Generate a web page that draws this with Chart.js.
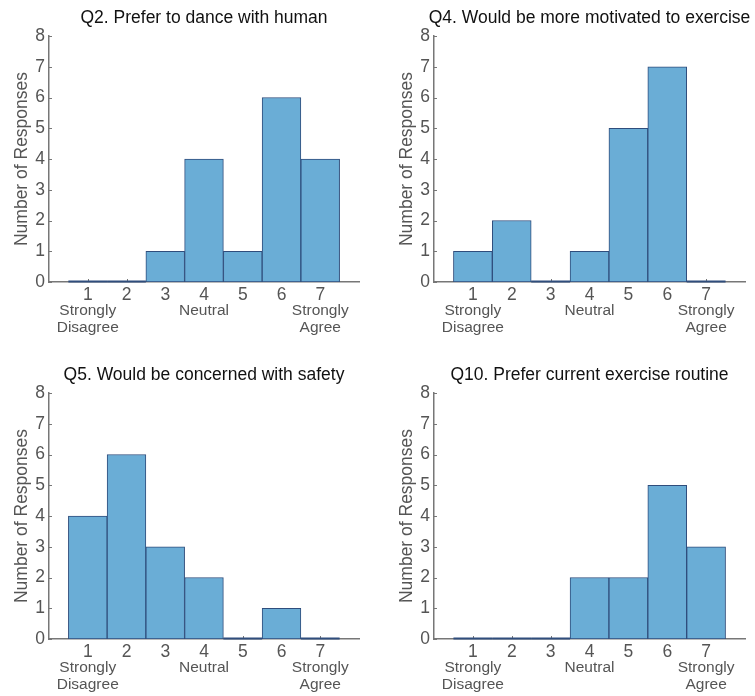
<!DOCTYPE html>
<html>
<head>
<meta charset="utf-8">
<script src="https://cdn.jsdelivr.net/npm/chart.js@4"></script>
<style>
  html, body { margin:0; padding:0; background:#fff; width:755px; height:696px; overflow:hidden; }
  canvas { position:absolute; }
</style>
</head>
<body>
<canvas id="c1" width="377" height="348" style="left:0;top:0"></canvas>
<canvas id="c2" width="370" height="348" style="left:385px;top:0"></canvas>
<canvas id="c3" width="377" height="339" style="left:0;top:357px"></canvas>
<canvas id="c4" width="370" height="339" style="left:385px;top:357px"></canvas>
<script>
// ---- data ----
const categories = [1, 2, 3, 4, 5, 6, 7];
const anchorLabels = { 1: ['Strongly', 'Disagree'], 4: ['Neutral'], 7: ['Strongly', 'Agree'] };
const q2Values  = [0, 0, 1, 4, 1, 6, 4];
const q4Values  = [1, 2, 0, 1, 5, 7, 0];
const q5Values  = [4, 6, 3, 2, 0, 1, 0];
const q10Values = [0, 0, 0, 2, 2, 5, 3];
const titles = [
  'Q2. Prefer to dance with human',
  'Q4. Would be more motivated to exercise',
  'Q5. Would be concerned with safety',
  'Q10. Prefer current exercise routine'
];
const yTitle = 'Number of Responses';

const FONT = '"Liberation Sans", Arial, Helvetica, sans-serif';
const AXIS = '#777777';
const TXT = '#555555';
const FILL = '#6aadd6';
const EDGE = '#2f4d7c';

const decoPlugin = {
  id: 'deco',
  beforeDatasetsDraw(chart) {
    const ctx = chart.ctx, a = chart.chartArea, xs = chart.scales.x, ys = chart.scales.y;
    ctx.save();
    ctx.strokeStyle = AXIS; ctx.lineWidth = 1;
    for (let v = 0; v <= 8; v++) {
      const y = Math.round(ys.getPixelForValue(v)) + 0.5;
      ctx.beginPath(); ctx.moveTo(a.left, y); ctx.lineTo(a.left + 3, y); ctx.stroke();
    }
    categories.forEach(c => {
      const x = Math.round(xs.getPixelForValue(c)) + 0.5;
      ctx.beginPath(); ctx.moveTo(x, a.bottom); ctx.lineTo(x, a.bottom - 3); ctx.stroke();
    });
    ctx.restore();
  },
  afterDatasetsDraw(chart) {
    const ctx = chart.ctx;
    const meta = chart.getDatasetMeta(0);
    const vals = chart.data.datasets[0].data;
    ctx.save();
    ctx.strokeStyle = EDGE; ctx.lineWidth = 2;
    meta.data.forEach((el, i) => {
      if (vals[i].y === 0) {
        ctx.beginPath();
        ctx.moveTo(el.x - el.width / 2, el.y - 0.5);
        ctx.lineTo(el.x + el.width / 2, el.y - 0.5);
        ctx.stroke();
      }
    });
    ctx.restore();
  },
  afterDraw(chart) {
    const ctx = chart.ctx, a = chart.chartArea, xs = chart.scales.x;
    ctx.save();
    ctx.textAlign = 'center'; ctx.textBaseline = 'middle';
    // title
    ctx.fillStyle = '#111111';
    ctx.font = '17.5px ' + FONT;
    ctx.fillText(chart.options.plugins.deco.title, (a.left + a.right) / 2, 18);
    // x tick labels
    categories.forEach(c => {
      const x = xs.getPixelForValue(c);
      ctx.fillStyle = TXT;
      ctx.font = '17.5px ' + FONT;
      ctx.fillText(String(c), x, a.bottom + 13);
      const words = anchorLabels[c];
      if (words) {
        ctx.font = '15.5px ' + FONT;
        words.forEach((w, k) => ctx.fillText(w, x, a.bottom + 29 + k * 17));
      }
    });
    ctx.restore();
  }
};

function makeChart(id, values, title, rightPad, xHeight) {
  return new Chart(document.getElementById(id), {
    type: 'bar',
    data: {
      datasets: [{
        data: values.map((v, i) => ({ x: categories[i], y: v })),
        backgroundColor: FILL,
        borderColor: EDGE,
        borderWidth: 1,
        borderSkipped: false,
        barPercentage: 1,
        categoryPercentage: 1
      }]
    },
    plugins: [decoPlugin],
    options: {
      responsive: false,
      animation: false,
      devicePixelRatio: 1,
      layout: { padding: { top: 36, right: rightPad, left: 0, bottom: 0 } },
      plugins: {
        legend: { display: false },
        tooltip: { enabled: false },
        deco: { title: title }
      },
      scales: {
        x: {
          type: 'linear', min: 0, max: 8, offset: false,
          grid: { display: false, drawTicks: false, offset: false },
          border: { display: true, color: AXIS, width: 1.5 },
          ticks: { display: false },
          afterFit(s) { s.height = xHeight; }
        },
        y: {
          min: 0, max: 8,
          grid: { display: false, drawTicks: false },
          border: { display: true, color: AXIS, width: 1.5 },
          ticks: { stepSize: 1, color: TXT, font: { size: 17.5, family: FONT }, padding: 4 },
          title: { display: true, text: yTitle, color: TXT, font: { size: 17.5, family: FONT }, padding: { top: 12, bottom: 0 } },
          afterFit(s) { s.width = 49; }
        }
      }
    }
  });
}

makeChart('c1', q2Values, titles[0], 18, 66);
makeChart('c2', q4Values, titles[1], 10, 66);
makeChart('c3', q5Values, titles[2], 18, 57);
makeChart('c4', q10Values, titles[3], 10, 57);
</script>
</body>
</html>
